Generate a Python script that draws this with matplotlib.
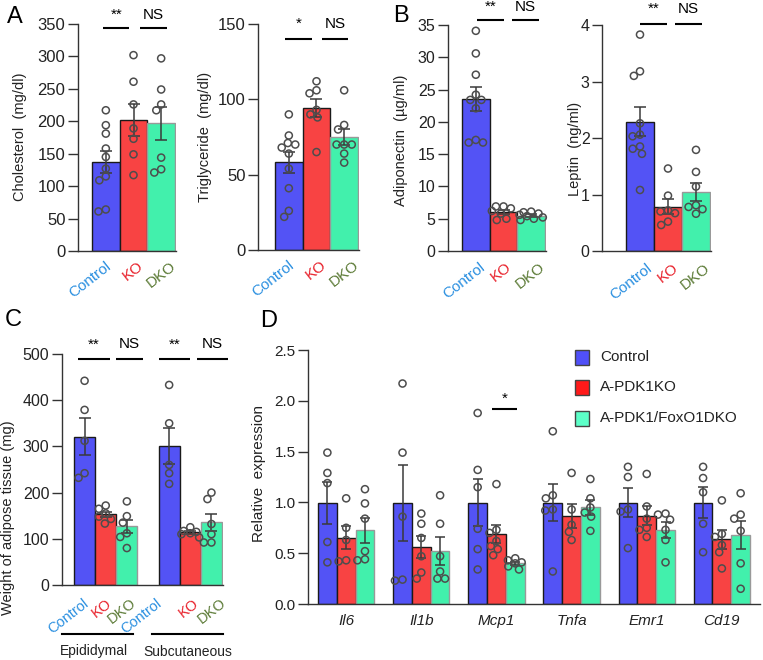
import numpy as np
import matplotlib
matplotlib.use('Agg')
from matplotlib import pyplot as plt
from matplotlib.patches import Rectangle
from matplotlib.lines import Line2D

plt.rcParams['font.family'] = ['Liberation Sans', 'DejaVu Sans']

# ---- data ----
names = ['Control', 'KO', 'DKO']
chol = [[217, 194, 181, 158, 145, 127, 115, 109, 64, 61],
        [302, 261, 226, 189, 173, 149, 117],
        [297, 249, 226, 217, 144, 126, 121]]
trig = [[90, 76, 71, 70, 68, 64, 54, 41, 26, 22],
        [112, 104, 106, 93, 90, 88, 65],
        [106, 83, 80, 70, 70, 70, 64, 58]]
adipo = [[34.1, 30.6, 27.3, 24.2, 23.4, 23.4, 22.1, 17.2, 16.8, 16.8],
         [6.9, 6.9, 6.6, 6.2, 5.8, 5.0, 4.8],
         [6.1, 6.0, 5.8, 5.6, 5.4, 5.2, 5.0, 4.8]]
leptin = [[3.83, 3.18, 3.10, 2.26, 2.06, 2.03, 1.85, 1.81, 1.72, 1.08],
          [1.46, 0.98, 0.72, 0.70, 0.67, 0.52, 0.46],
          [1.79, 1.40, 1.14, 0.81, 0.78, 0.74, 0.66]]
epi = [[442, 379, 312, 242, 232],
       [172, 165, 155, 148, 143, 133],
       [181, 149, 135, 112, 104, 80]]
subc = [[433, 350, 260, 242, 219],
        [125, 117, 115, 112, 110, 103],
        [200, 186, 132, 110, 92, 92]]
genes = ['Il6', 'Il1b', 'Mcp1', 'Tnfa', 'Emr1', 'Cd19']
expr = [
    [[1.49, 1.29, 1.19, 0.61, 0.41], [1.04, 0.75, 0.63, 0.43, 0.42], [1.13, 0.99, 0.84, 0.52, 0.44, 0.43]],
    [[2.17, 1.49, 0.86, 0.24, 0.23], [0.89, 0.79, 0.65, 0.47, 0.31, 0.25], [1.07, 0.79, 0.47, 0.32, 0.25, 0.25]],
    [[1.88, 1.32, 1.15, 0.74, 0.54, 0.34], [1.18, 0.73, 0.70, 0.62, 0.57, 0.54, 0.48], [0.45, 0.43, 0.41, 0.40, 0.37, 0.34]],
    [[1.70, 1.07, 1.04, 0.93, 0.92, 0.32], [1.29, 0.93, 0.78, 0.71, 0.63], [1.23, 1.04, 0.95, 0.90, 0.86, 0.72]],
    [[1.35, 1.25, 0.93, 0.91, 0.55], [1.28, 0.96, 0.84, 0.75, 0.73, 0.66], [0.89, 0.88, 0.83, 0.73, 0.63, 0.41]],
    [[1.35, 1.24, 1.10, 0.79, 0.51], [1.02, 0.69, 0.66, 0.58, 0.51, 0.35], [1.09, 0.88, 0.84, 0.72, 0.40, 0.15]],
]
legend_labels = ['Control', 'A-PDK1KO', 'A-PDK1/FoxO1DKO']

# ---- styles ----
W, H = 763, 660
bar_cols = ['#5353F5', '#F84343', '#42F0AC']
bar_edges = ['#1a1a1a', '#1a1a1a', '#999999']
legend_cols = ['#5050F8', '#FF1A1A', '#5CFFC8']
name_cols = ['#2A8FE0', '#E8202A', '#5B7A35']
axis_col = '#333333'

fig = plt.figure(figsize=(W / 100, H / 100), dpi=100)


def box(l, t, r, b):
    return [l / W, 1 - b / H, (r - l) / W, (b - t) / H]


def fig_text(x, y, s, **kw):
    fig.text(x / W, 1 - y / H, s, **kw)


def swarm(ax, vals, center, d=7.6, half=0.42):
    # simple beeswarm in pixel space, kept inside the bar (overlap allowed when crowded)
    bb = ax.get_position()
    x0, x1 = ax.get_xlim()
    y0, y1 = ax.get_ylim()
    sx = bb.width * W / (x1 - x0)
    sy = bb.height * H / (y1 - y0)
    lim = half * sx
    ys = np.asarray(vals, float) * sy
    xs = np.zeros(len(ys))
    placed = []
    for i in np.argsort(-ys):
        y = ys[i]
        cands = [0.0, lim, -lim]
        for px, py in placed:
            dy = abs(py - y)
            if dy < d:
                dx = np.sqrt(d * d - dy * dy)
                cands += [px + dx, px - dx]
        cands = [c for c in cands if abs(c) <= lim + 1e-6]
        cands.sort(key=lambda c: (round(abs(c), 3), c))
        best, best_gap = 0.0, -1
        for c in cands:
            gap = min([np.hypot(c - px, y - py) for px, py in placed] or [d])
            if gap >= d - 1e-6:
                best = c
                break
            if gap > best_gap + 0.5:
                best, best_gap = c, gap
        xs[i] = best
        placed.append((best, y))
    return center + xs / sx


def style(ax, fs):
    for s in ['top', 'right']:
        ax.spines[s].set_visible(False)
    for s in ['left', 'bottom']:
        ax.spines[s].set_linewidth(1)
        ax.spines[s].set_color(axis_col)
    ax.tick_params(axis='y', length=7.5, width=1, color=axis_col, labelsize=fs, pad=1.5, labelcolor='#222222')
    ax.tick_params(axis='x', length=0)


def draw_groups(ax, groups, pos, capsize=4.5):
    for j, (vals, x) in enumerate(zip(groups, pos)):
        k = j % 3
        v = np.asarray(vals, float)
        m = v.mean()
        sem = v.std(ddof=1) / np.sqrt(len(v))
        ax.bar(x, m, width=1.0, color=bar_cols[k], edgecolor=bar_edges[k], linewidth=1, zorder=2)
        ax.errorbar(x, m, yerr=sem, fmt='none', ecolor='#3a3a3a', elinewidth=1.1,
                    capsize=capsize, capthick=1.1, zorder=3)
        ax.scatter(swarm(ax, v, x), v, s=26, facecolors='none', edgecolors='#4d4d4d',
                   linewidths=1.1, zorder=4, clip_on=False)


def name_labels(ax, pos, dxs, dy, fs, rot=38):
    for j, (x, dx) in enumerate(zip(pos, dxs)):
        ax.annotate(names[j % 3], xy=(x, 0), xycoords=('data', 'axes fraction'),
                    xytext=(dx * 0.72, dy * 0.72), textcoords='offset points', rotation=rot,
                    ha='right', va='top', rotation_mode='anchor', color=name_cols[j % 3],
                    fontsize=fs, annotation_clip=False)


def sig(ax, x1, x2, y, txt, gap=4.5, fs=11):
    ax.plot([x1, x2], [y, y], color='black', lw=1.5, clip_on=False, solid_capstyle='butt')
    ax.annotate(txt, xy=((x1 + x2) / 2, y), xytext=(0, gap), textcoords='offset points',
                ha='center', va='bottom', fontsize=fs, annotation_clip=False)


# ---- panel A ----
ax = fig.add_axes(box(78, 24, 176, 251))
ax.set_xlim(-1.006, 2.536)
ax.set_ylim(0, 350)
ax.set_yticks(range(0, 351, 50))
ax.set_xticks([])
style(ax, 12)
draw_groups(ax, chol, [0, 1, 2])
name_labels(ax, [0, 1, 2], [-1, 4, 9], -8, 11)
sig(ax, -0.09, 0.84, 344, '**')
sig(ax, 1.22, 2.2, 344, 'NS')
fig_text(20, 137, 'Cholesterol  (mg/dl)', rotation=90, ha='center', va='center', fontsize=10.5, color='#222222')

ax = fig.add_axes(box(258, 24, 359, 250))
ax.set_xlim(-1.114, 2.536)
ax.set_ylim(0, 150)
ax.set_yticks([0, 50, 100, 150])
ax.set_xticks([])
style(ax, 12)
draw_groups(ax, trig, [0, 1, 2])
name_labels(ax, [0, 1, 2], [-1, 4, 9], -8, 11)
sig(ax, -0.15, 0.84, 140, '*', gap=6)
sig(ax, 1.2, 2.15, 140, 'NS', gap=6)
fig_text(205, 137, 'Triglyceride  (mg/dl)', rotation=90, ha='center', va='center', fontsize=10.5, color='#222222')

# ---- panel B ----
ax = fig.add_axes(box(448, 25, 546, 251))
ax.set_xlim(-1.006, 2.536)
ax.set_ylim(0, 35)
ax.set_yticks(range(0, 36, 5))
ax.set_xticks([])
style(ax, 11.5)
draw_groups(ax, adipo, [0, 1, 2])
name_labels(ax, [0, 1, 2], [3, 2, 8], -9, 11)
sig(ax, 0.05, 1.03, 35.8, '**')
sig(ax, 1.32, 2.29, 35.8, 'NS')
fig_text(401, 140, 'Adiponectin  (\u00b5g/ml)', rotation=90, ha='center', va='center', fontsize=10.5, color='#222222')

ax = fig.add_axes(box(602, 25, 711, 251))
ax.set_xlim(-1.357, 2.536)
ax.set_ylim(0, 4)
ax.set_yticks([0, 1, 2, 3, 4])
ax.set_xticks([])
style(ax, 11.5)
draw_groups(ax, leptin, [0, 1, 2])
name_labels(ax, [0, 1, 2], [6, 4, 8], -10, 11)
sig(ax, 0.0, 0.96, 4.02, '**', gap=5.5)
sig(ax, 1.25, 2.2, 4.02, 'NS', gap=5.5)
fig_text(575, 149, 'Leptin  (ng/ml)', rotation=90, ha='center', va='center', fontsize=10.5, color='#222222')

# ---- panel C ----
ax = fig.add_axes(box(62, 354, 223, 585))
ax.set_xlim(-1.068, 6.547)
ax.set_ylim(0, 500)
ax.set_yticks(range(0, 501, 100))
ax.set_xticks([])
style(ax, 11.5)
posC = [0, 1, 2, 4, 5, 6]
draw_groups(ax, epi + subc, posC, capsize=4)
name_labels(ax, posC, [-2, 0, 3, -13, 2, 9], -11, 10.5)
sig(ax, -0.33, 1.2, 489, '**', gap=5.5)
sig(ax, 1.5, 2.76, 489, 'NS', gap=5.5)
sig(ax, 3.5, 5.0, 489, '**', gap=5.5)
sig(ax, 5.3, 6.8, 489, 'NS', gap=5.5)
fig_text(8, 518, 'Weight of adipose tissue (mg)', rotation=90, ha='center', va='center', fontsize=10.5, color='#222222')
for l, r in [(62, 133), (152, 223)]:
    fig.add_artist(Line2D([l / W, r / W], [1 - 634 / H] * 2, color='black', lw=1.5))
fig_text(94, 651, 'Epididymal', ha='center', va='center', fontsize=10, color='#222222')
fig_text(188, 652, 'Subcutaneous', ha='center', va='center', fontsize=10, color='#222222')

# ---- panel D ----
ax = fig.add_axes(box(308, 350, 760, 604))
ax.set_xlim(-1.032, 23.03)
ax.set_ylim(0, 2.5)
ax.set_yticks([0, 0.5, 1.0, 1.5, 2.0, 2.5])
ax.set_yticklabels(['%.1f' % t for t in [0, 0.5, 1.0, 1.5, 2.0, 2.5]])
style(ax, 11)
for g, groups in enumerate(expr):
    draw_groups(ax, groups, [4 * g, 4 * g + 1, 4 * g + 2], capsize=3.6)
ax.set_xticks([4 * g + 1 for g in range(len(genes))])
ax.set_xticklabels(genes, fontstyle='italic', fontsize=11, color='#222222')
ax.tick_params(axis='x', pad=7)
sig(ax, 8.75, 10.1, 1.92, '*', gap=2.5)
fig_text(259, 473, 'Relative  expression', rotation=90, ha='center', va='center', fontsize=11, color='#222222')

for i, (lab, col) in enumerate(zip(legend_labels, legend_cols)):
    yc = [357, 387, 418][i]
    fig.add_artist(Rectangle((575 / W, 1 - (yc + 7.5) / H), 14 / W, 15 / H, transform=fig.transFigure,
                             facecolor=col, edgecolor='#444444', lw=1))
    fig_text(600, yc, lab, ha='left', va='center', fontsize=11, color='#222222')

# ---- panel letters ----
for letter, x, y in [('A', 15, 17), ('B', 401, 16), ('C', 13, 320), ('D', 269, 321)]:
    fig_text(x, y, letter, ha='center', va='center', fontsize=17)

plt.savefig('out.png', dpi=100)
